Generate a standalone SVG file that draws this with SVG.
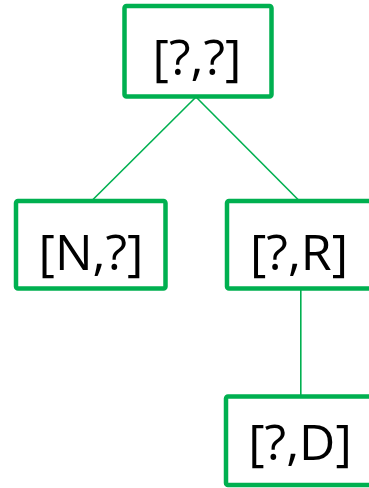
<svg xmlns="http://www.w3.org/2000/svg" width="369" height="488" viewBox="0 0 369 488">
  <style>
    .box { fill: #ffffff; stroke: #00B050; stroke-width: 4.5; }
    .lbl { font-family: "Open Sans", "Liberation Sans", sans-serif; font-size: 50px; fill: #000000; text-anchor: middle; }
    .edge { stroke: #00B050; stroke-width: 1.6; fill: none; }
  </style>
  <rect width="369" height="488" fill="#ffffff"/>
  <g id="connectors">
    <line class="edge" x1="196" y1="97" x2="92.5" y2="200"/>
    <line class="edge" x1="196" y1="97" x2="298.5" y2="200"/>
    <line class="edge" x1="300.8" y1="289" x2="300.8" y2="396"/>
  </g>
  <g id="root">
    <rect class="box" x="124.5" y="6" width="147" height="90.5" rx="2"/>
    <text class="lbl" x="197" y="75">[?,?]</text>
  </g>
  <g id="left">
    <rect class="box" x="16" y="201" width="149.5" height="87.5" rx="2"/>
    <text class="lbl" x="91" y="270">[N,?]</text>
  </g>
  <g id="right">
    <rect class="box" x="227" y="201" width="145" height="87.5" rx="2"/>
    <text class="lbl" x="299" y="270">[?,R]</text>
  </g>
  <g id="leaf">
    <rect class="box" x="226" y="396.5" width="146" height="88.5" rx="2"/>
    <text class="lbl" x="300" y="460">[?,D]</text>
  </g>
</svg>
